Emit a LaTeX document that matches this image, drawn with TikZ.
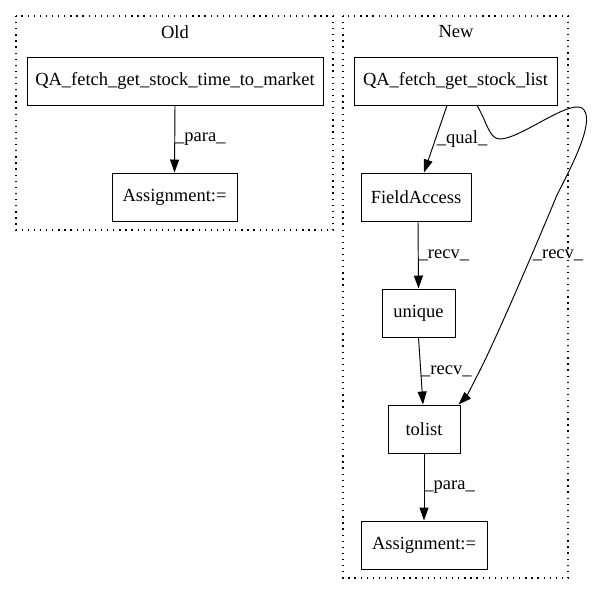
\documentclass[tikz,border=0pt]{standalone}
\usepackage{fontspec}
\setmainfont{Liberation Serif}
\usetikzlibrary{arrows.meta}
\begin{document}
\begin{tikzpicture}[x=1pt,y=1pt,
  box/.style={draw, line width=0.95pt, minimum height=48pt, inner sep=0pt, font=\fontsize{18.5}{20}\selectfont},
  clus/.style={draw, line width=1.3pt, dash pattern=on 1.3pt off 4.8pt},
  ttl/.style={font=\fontsize{18.5}{20}\selectfont, inner sep=0pt},
  lbl/.style={font=\fontsize{18.5}{20}\selectfont, inner sep=0pt, anchor=west},
  arr/.style={line width=0.95pt, -{Triangle[length=13pt,width=9pt]}}]
\useasboundingbox (0,0) rectangle (592,-596);
% clusters
\draw[clus] (16,-16) rectangle (333,-230);
\draw[clus] (343,-16) rectangle (568,-578);
\node[ttl] (told) at (175,-32) {Old};
\node[ttl] (tnew) at (456,-32) {New};
% nodes
\node[box, minimum width=296pt] (qa1) at (175,-81) {QA\_fetch\_get\_stock\_time\_to\_market};
\node[box, minimum width=125pt] (asg1) at (174.5,-197) {Assignment:=};
\node[box, minimum width=203pt] (qa2) at (455.5,-81) {QA\_fetch\_get\_stock\_list};
\node[box, minimum width=110pt] (fa) at (416,-197) {FieldAccess};
\node[box, minimum width=73pt] (uq) at (418.5,-313) {unique};
\node[box, minimum width=72pt] (tl) at (424,-429) {tolist};
\node[box, minimum width=126pt] (asg2) at (424,-545) {Assignment:=};
% edges
\draw[arr] (qa1.south) -- node[lbl] (l1) {\_para\_} (asg1.north);
\draw[arr] ([xshift=-8.5pt]qa2.south) -- node[lbl, xshift=1pt] (l2) {\_qual\_} ([xshift=8pt]fa.north);
\draw[arr] ([xshift=2pt]fa.south) -- node[lbl] (l3) {\_recv\_} (uq.north);
\draw[arr] (uq.south) -- node[lbl] (l4) {\_recv\_} ([xshift=-1pt]tl.north);
\draw[arr] (tl.south) -- node[lbl] (l5) {\_para\_} (asg2.north);
\draw[arr] ([xshift=21.5pt]qa2.south) .. controls (487,-122) and (489,-139) .. (500,-139)
  .. controls (520,-139) and (568,-100) .. (582,-108)
  .. controls (596,-118) and (575,-160) .. (557,-195)
  .. controls (530,-260) and (492,-348) .. (476,-378)
  .. controls (471,-388) and (466,-397) .. ([xshift=-2pt]tl.north east);
\node[ttl] (l6) at (558,-255) {\_recv\_};
\end{tikzpicture}
\end{document}
